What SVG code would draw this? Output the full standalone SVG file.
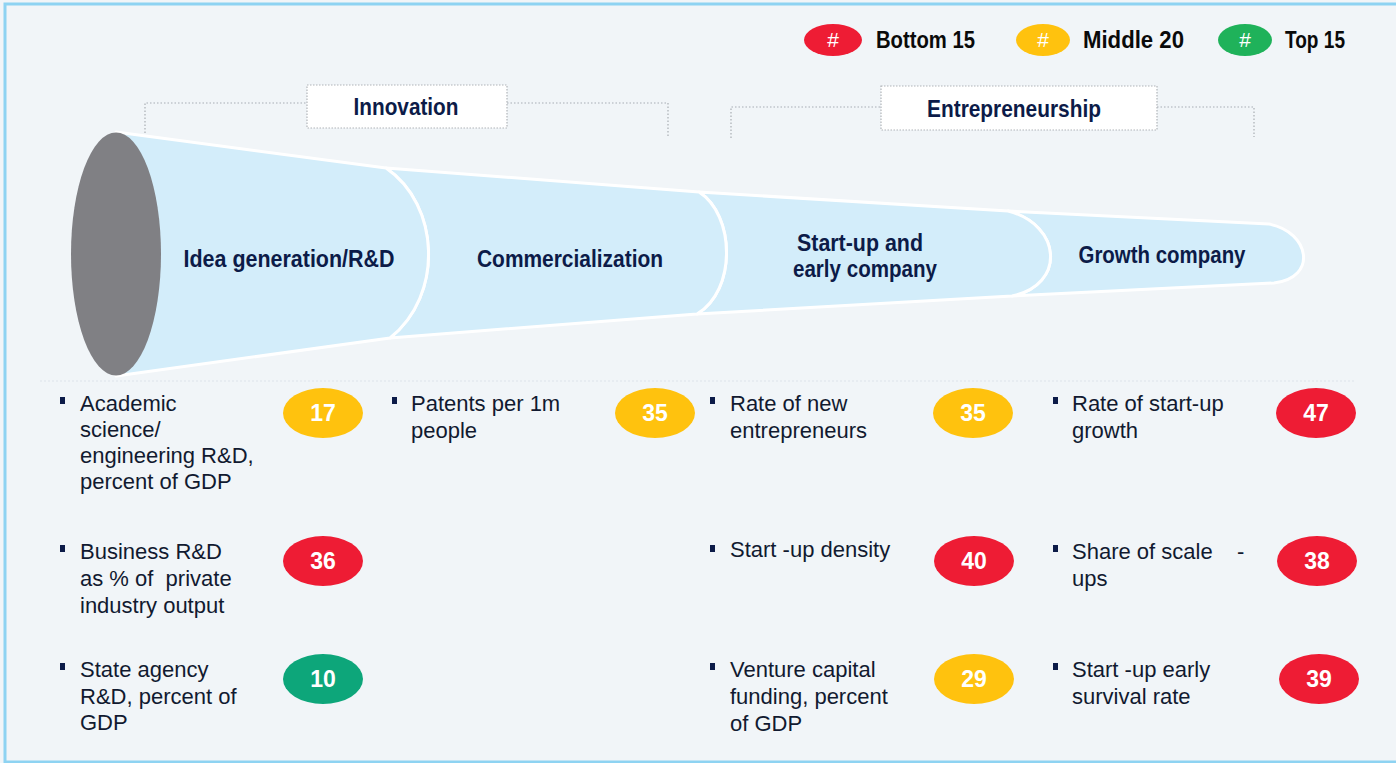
<svg xmlns="http://www.w3.org/2000/svg" width="1396" height="763" viewBox="0 0 1396 763">
<style>
.bg{fill:#F1F5F8}
.frame{fill:none;stroke:#8ED3F2;stroke-width:3}
.seg{fill:#D3EDFA;stroke:#FFFFFF;stroke-width:3;stroke-linejoin:round}
.hd{font-family:"Liberation Sans",Arial,sans-serif;font-weight:bold;font-size:24px;fill:#0C1B48;text-anchor:middle}
.lg{font-family:"Liberation Sans",Arial,sans-serif;font-weight:bold;font-size:23px;fill:#0A0A0A}
.hash{font-family:"Liberation Sans",Arial,sans-serif;font-size:21px;fill:#FFFFFF;text-anchor:middle}
.body{font-family:"Liberation Sans",Arial,sans-serif;font-size:22px;fill:#111A30;white-space:pre}
.num{font-family:"Liberation Sans",Arial,sans-serif;font-weight:bold;font-size:23px;fill:#FFFFFF;text-anchor:middle}
.red{fill:#EE1C34}
.yel{fill:#FFC20E}
.grn{fill:#1FB25A}
.teal{fill:#0DA67A}
.bul{fill:#0C1B48}
.brk{fill:none;stroke:#A8ADB3;stroke-width:1.2;stroke-dasharray:1.5 2}
.box{fill:#FFFFFF;stroke:#B0B4B8;stroke-width:1.2;stroke-dasharray:1.5 1.5}
.sep{fill:none;stroke:#DDE3EA;stroke-width:1.2;stroke-dasharray:2 2}
</style>
<rect class="bg" x="0" y="0" width="1396" height="763"/>
<rect class="frame" x="5" y="4" width="1400" height="758"/>

<g id="legend">
  <g id="legend-bottom">
    <ellipse class="red" cx="833" cy="40" rx="29" ry="16"/>
    <text class="hash" x="833" y="47">#</text>
    <text class="lg" x="876" y="48" textLength="99" lengthAdjust="spacingAndGlyphs">Bottom 15</text>
  </g>
  <g id="legend-middle">
    <ellipse class="yel" cx="1043" cy="40" rx="27" ry="16"/>
    <text class="hash" x="1043" y="47">#</text>
    <text class="lg" x="1083" y="48" textLength="101" lengthAdjust="spacingAndGlyphs">Middle 20</text>
  </g>
  <g id="legend-top">
    <ellipse class="grn" cx="1245" cy="40" rx="27" ry="16"/>
    <text class="hash" x="1245" y="47">#</text>
    <text class="lg" x="1285" y="48" textLength="60" lengthAdjust="spacingAndGlyphs">Top 15</text>
  </g>
</g>

<g id="connectors">
  <path class="brk" d="M145,133 V103 H307"/>
  <path class="brk" d="M507,103 H668 V137"/>
  <path class="brk" d="M731,138 V107 H881"/>
  <path class="brk" d="M1157,107 H1254 V137"/>
  <path class="sep" d="M40,381 H1356"/>
</g>

<g id="innovation">
  <rect class="box" x="307" y="85" width="200" height="43"/>
  <text class="hd" x="406" y="115" textLength="105" lengthAdjust="spacingAndGlyphs">Innovation</text>
</g>
<g id="entrepreneurship">
  <rect class="box" x="881" y="86" width="276" height="44"/>
  <text class="hd" x="1014" y="117" textLength="174" lengthAdjust="spacingAndGlyphs">Entrepreneurship</text>
</g>

<g id="funnel">
  <g id="growth-company">
    <path class="seg" d="M1008,211 L1269,224 C1310,232 1318,278 1274,283 L1012,296 C1066,285 1062,225 1008,211 Z"/>
    <text class="hd" x="1162" y="263" textLength="167" lengthAdjust="spacingAndGlyphs">Growth company</text>
  </g>
  <g id="startup">
    <path class="seg" d="M699,192 L1008,211 C1062,225 1066,285 1012,296 L697,314 C737,290 735,215 699,192 Z"/>
    <text class="hd" x="860" y="251" textLength="126" lengthAdjust="spacingAndGlyphs">Start-up and</text>
    <text class="hd" x="865" y="277" textLength="144" lengthAdjust="spacingAndGlyphs">early company</text>
  </g>
  <g id="commercialization">
    <path class="seg" d="M386,168 L699,192 C735,215 737,290 697,314 L390,338 C444,295 440,205 386,168 Z"/>
    <text class="hd" x="570" y="267" textLength="186" lengthAdjust="spacingAndGlyphs">Commercialization</text>
  </g>
  <g id="idea-generation">
    <path class="seg" d="M116,132 L386,168 C440,205 444,295 390,338 L116,376 Z"/>
    <ellipse cx="116" cy="254" rx="45" ry="121.5" fill="#808084"/>
    <text class="hd" x="289" y="267" textLength="211" lengthAdjust="spacingAndGlyphs">Idea generation/R&amp;D</text>
  </g>
</g>

<g id="m-academic">
  <rect class="bul" x="60" y="397" width="5" height="7"/>
  <text class="body"><tspan x="80" y="411">Academic</tspan><tspan x="80" y="437">science/</tspan><tspan x="80" y="463">engineering R&amp;D,</tspan><tspan x="80" y="489">percent of GDP</tspan></text>
  <ellipse class="yel" cx="323" cy="413" rx="40" ry="25"/>
  <text class="num" x="323" y="421">17</text>
</g>
<g id="m-business">
  <rect class="bul" x="60" y="545" width="5" height="7"/>
  <text class="body" xml:space="preserve"><tspan x="80" y="559">Business R&amp;D</tspan><tspan x="80" y="586">as % of  private</tspan><tspan x="80" y="613">industry output</tspan></text>
  <ellipse class="red" cx="323" cy="561" rx="40" ry="25"/>
  <text class="num" x="323" y="569">36</text>
</g>
<g id="m-state">
  <rect class="bul" x="60" y="663" width="5" height="7"/>
  <text class="body"><tspan x="80" y="677">State agency</tspan><tspan x="80" y="704">R&amp;D, percent of</tspan><tspan x="80" y="730">GDP</tspan></text>
  <ellipse class="teal" cx="323" cy="679" rx="40" ry="25"/>
  <text class="num" x="323" y="687">10</text>
</g>
<g id="m-patents">
  <rect class="bul" x="392" y="397" width="5" height="7"/>
  <text class="body"><tspan x="411" y="411">Patents per 1m</tspan><tspan x="411" y="438">people</tspan></text>
  <ellipse class="yel" cx="655" cy="413" rx="40" ry="25"/>
  <text class="num" x="655" y="421">35</text>
</g>
<g id="m-new-entrepreneurs">
  <rect class="bul" x="710" y="397" width="5" height="7"/>
  <text class="body"><tspan x="730" y="411">Rate of new</tspan><tspan x="730" y="438">entrepreneurs</tspan></text>
  <ellipse class="yel" cx="973" cy="413" rx="40" ry="25"/>
  <text class="num" x="973" y="421">35</text>
</g>
<g id="m-density">
  <rect class="bul" x="710" y="545" width="5" height="7"/>
  <text class="body"><tspan x="730" y="557">Start -up density</tspan></text>
  <ellipse class="red" cx="974" cy="561" rx="40" ry="25"/>
  <text class="num" x="974" y="569">40</text>
</g>
<g id="m-venture">
  <rect class="bul" x="710" y="663" width="5" height="7"/>
  <text class="body"><tspan x="730" y="677">Venture capital</tspan><tspan x="730" y="704">funding, percent</tspan><tspan x="730" y="731">of GDP</tspan></text>
  <ellipse class="yel" cx="974" cy="679" rx="40" ry="25"/>
  <text class="num" x="974" y="687">29</text>
</g>
<g id="m-startup-growth">
  <rect class="bul" x="1053" y="397" width="5" height="7"/>
  <text class="body"><tspan x="1072" y="411">Rate of start-up</tspan><tspan x="1072" y="438">growth</tspan></text>
  <ellipse class="red" cx="1316" cy="413" rx="40" ry="25"/>
  <text class="num" x="1316" y="421">47</text>
</g>
<g id="m-scaleups">
  <rect class="bul" x="1053" y="545" width="5" height="7"/>
  <text class="body" xml:space="preserve"><tspan x="1072" y="559">Share of scale    -</tspan><tspan x="1072" y="586">ups</tspan></text>
  <ellipse class="red" cx="1317" cy="561" rx="40" ry="25"/>
  <text class="num" x="1317" y="569">38</text>
</g>
<g id="m-survival">
  <rect class="bul" x="1053" y="663" width="5" height="7"/>
  <text class="body"><tspan x="1072" y="677">Start -up early</tspan><tspan x="1072" y="704">survival rate</tspan></text>
  <ellipse class="red" cx="1319" cy="679" rx="40" ry="25"/>
  <text class="num" x="1319" y="687">39</text>
</g>
</svg>
